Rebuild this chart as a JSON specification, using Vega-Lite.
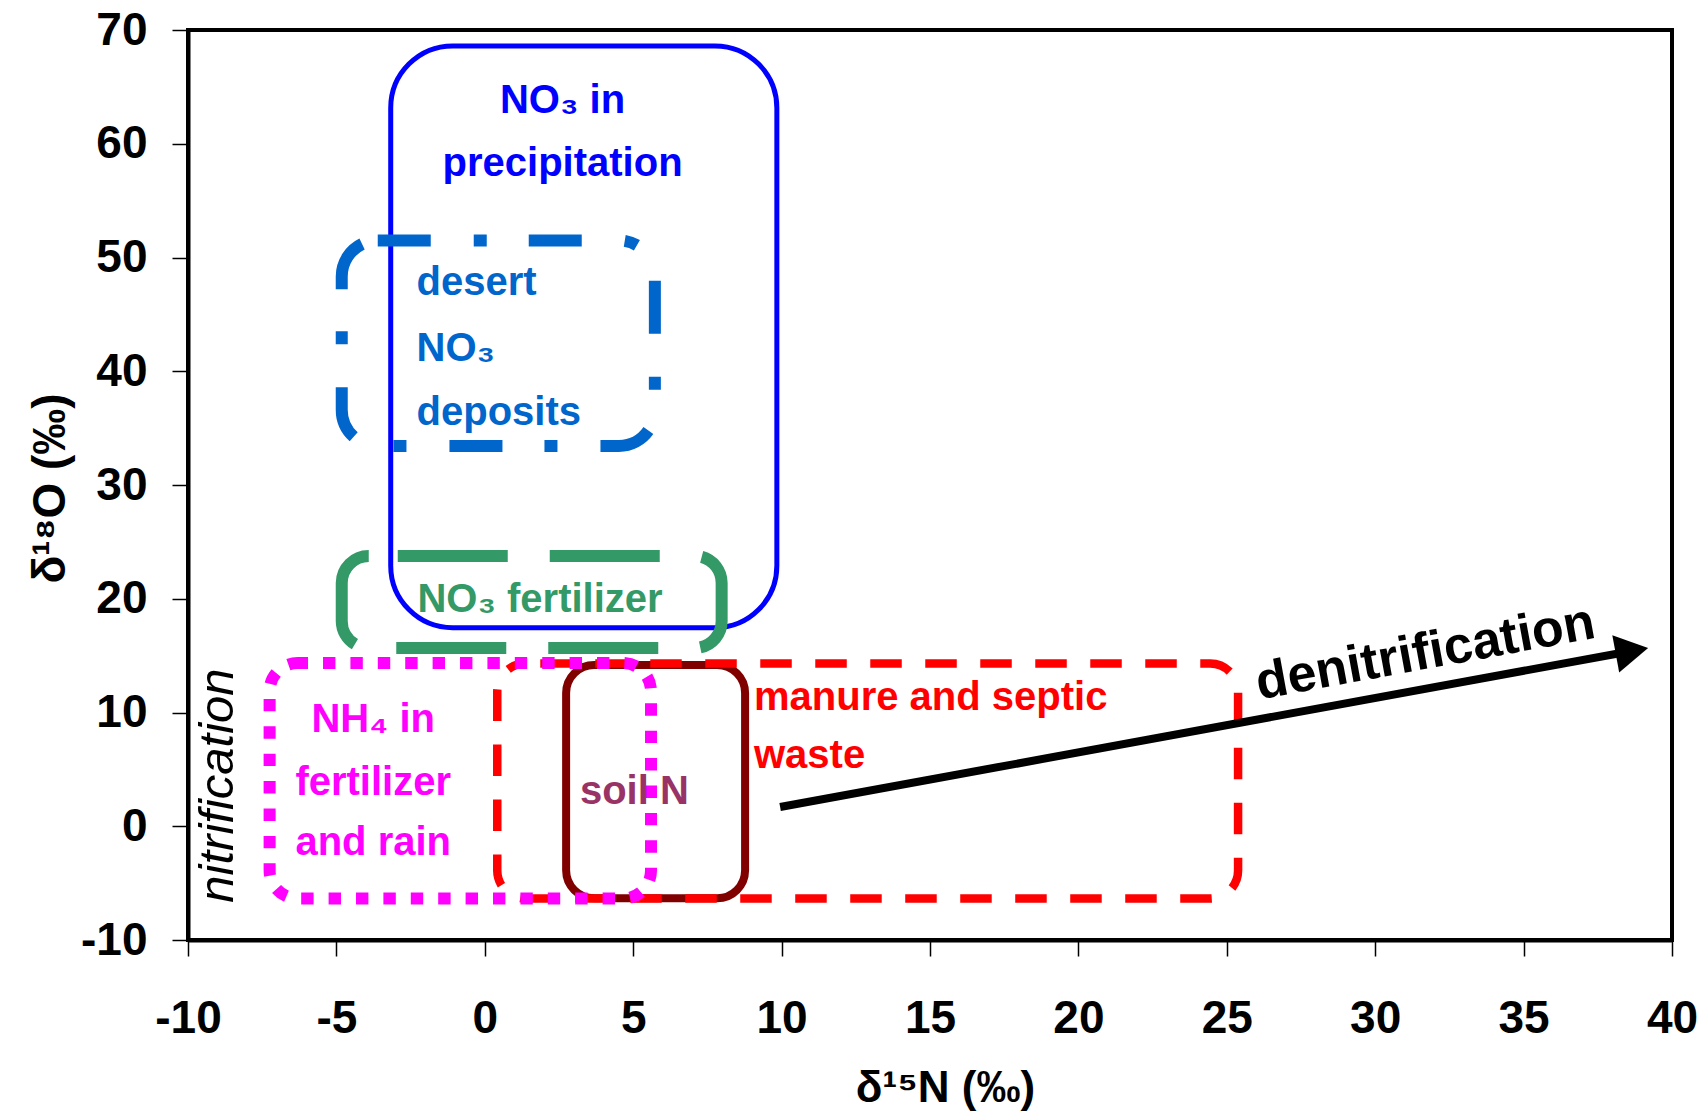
{
  "$schema": "https://vega.github.io/schema/vega-lite/v6.json",
  "width": 1484,
  "height": 910,
  "autosize": {"type": "none"},
  "padding": {"left": 188, "top": 30, "right": 34, "bottom": 174},
  "background": "white",
  "config": {
    "view": {"stroke": "black", "strokeWidth": 4},
    "font": "Liberation Sans"
  },
  "datasets": {
    "boxes": [
      {"box": "precip", "x": -3.17, "x2": 9.84, "y": 17.45, "y2": 68.6},
      {"box": "desert", "x": -4.82, "x2": 5.73, "y": 33.43, "y2": 51.5},
      {"box": "fertNO3", "x": -4.82, "x2": 7.98, "y": 15.67, "y2": 23.76},
      {"box": "soil", "x": 2.74, "x2": 8.77, "y": -6.33, "y2": 14.17},
      {"box": "manure", "x": 0.42, "x2": 25.38, "y": -6.36, "y2": 14.3},
      {"box": "nh4", "x": -7.25, "x2": 5.6, "y": -6.36, "y2": 14.35}
    ],
    "labelsCenter": [
      {"text": "NO₃ in", "x": 2.62, "y": 63.8, "group": "precip"},
      {"text": "precipitation", "x": 2.62, "y": 58.2, "group": "precip"},
      {"text": "NH₄ in", "x": -3.76, "y": 9.3, "group": "nh4"},
      {"text": "fertilizer", "x": -3.76, "y": 3.8, "group": "nh4"},
      {"text": "and rain", "x": -3.76, "y": -1.5, "group": "nh4"},
      {"text": "soil N", "x": 5.04, "y": 3.0, "group": "soil"}
    ],
    "labelsLeft": [
      {"text": "desert", "x": -2.3, "y": 47.8, "group": "desert"},
      {"text": "NO₃", "x": -2.3, "y": 42.0, "group": "desert"},
      {"text": "deposits", "x": -2.3, "y": 36.3, "group": "desert"},
      {"text": "NO₃ fertilizer", "x": -2.27, "y": 19.9, "group": "fertNO3"},
      {"text": "manure and septic", "x": 9.07, "y": 11.3, "group": "manure"},
      {"text": "waste", "x": 9.07, "y": 6.2, "group": "manure"}
    ],
    "arrow": [{"x": 9.95, "y": 1.69, "x2": 38.65, "y2": 15.41}],
    "arrowHead": [{"x": 38.65, "y": 15.41}],
    "process1": [{"text": "denitrification", "x": 31.69, "y": 15.25}],
    "process2": [{"text": "nitrification", "x": -9.0, "y": 3.58}]
  },
  "layer": [
    {
      "data": {"name": "boxes"},
      "transform": [{"filter": "datum.box === 'precip'"}],
      "mark": {"type": "rect", "fillOpacity": 0, "stroke": "#0000FF", "strokeWidth": 5, "cornerRadius": 62},
      "encoding": {
        "x": {"field": "x", "type": "quantitative", "title": "δ¹⁵N (‰)",
          "scale": {"domain": [-10, 40], "nice": false, "zero": false},
          "axis": {"values": [-10, -5, 0, 5, 10, 15, 20, 25, 30, 35, 40], "grid": false,
            "labelExpr": "(datum.value < 0 ? '-' : '') + abs(datum.value)",
            "domain": true, "domainColor": "black", "domainWidth": 4,
            "ticks": true, "tickSize": 16, "tickWidth": 1.5, "tickColor": "black",
            "labelFont": "Liberation Sans", "labelFontSize": 46, "labelFontWeight": "bold", "labelColor": "black",
            "labelPadding": 40, "labelFlush": false, "labelOverlap": false,
            "title": "δ¹⁵N (‰)", "titleFont": "Liberation Sans", "titleFontSize": 44, "titleFontWeight": "bold",
            "titleColor": "black", "titleX": 757, "titleY": 161, "titleBaseline": "alphabetic"}},
        "x2": {"field": "x2"},
        "y": {"field": "y", "type": "quantitative", "title": "δ¹⁸O (‰)",
          "scale": {"domain": [-10, 70], "nice": false, "zero": false},
          "axis": {"values": [-10, 0, 10, 20, 30, 40, 50, 60, 70], "grid": false,
            "labelExpr": "(datum.value < 0 ? '-' : '') + abs(datum.value)",
            "domain": true, "domainColor": "black", "domainWidth": 4,
            "ticks": true, "tickSize": 16, "tickWidth": 1.5, "tickColor": "black",
            "labelFont": "Liberation Sans", "labelFontSize": 46, "labelFontWeight": "bold", "labelColor": "black",
            "labelPadding": 25, "labelFlush": false, "labelOverlap": false,
            "title": "δ¹⁸O (‰)", "titleFont": "Liberation Sans", "titleFontSize": 46, "titleFontWeight": "bold",
            "titleColor": "black", "titleX": -124, "titleY": 458, "titleAngle": 270, "titleBaseline": "alphabetic"}},
        "y2": {"field": "y2"}
      }
    },
    {
      "data": {"name": "boxes"},
      "transform": [{"filter": "datum.box === 'desert'"}],
      "mark": {"type": "rect", "fillOpacity": 0, "stroke": "#0066CC", "strokeWidth": 12, "cornerRadius": 36, "strokeDash": [53, 43, 13, 42]},
      "encoding": {
        "x": {"field": "x", "type": "quantitative", "title": "δ¹⁵N (‰)"},
        "x2": {"field": "x2"},
        "y": {"field": "y", "type": "quantitative", "title": "δ¹⁸O (‰)"},
        "y2": {"field": "y2"}
      }
    },
    {
      "data": {"name": "boxes"},
      "transform": [{"filter": "datum.box === 'fertNO3'"}],
      "mark": {"type": "rect", "fillOpacity": 0, "stroke": "#339966", "strokeWidth": 12, "cornerRadius": 27, "strokeDash": [110, 42], "strokeDashOffset": 123},
      "encoding": {
        "x": {"field": "x", "type": "quantitative", "title": "δ¹⁵N (‰)"},
        "x2": {"field": "x2"},
        "y": {"field": "y", "type": "quantitative", "title": "δ¹⁸O (‰)"},
        "y2": {"field": "y2"}
      }
    },
    {
      "data": {"name": "boxes"},
      "transform": [{"filter": "datum.box === 'soil'"}],
      "mark": {"type": "rect", "fillOpacity": 0, "stroke": "#800000", "strokeWidth": 8, "cornerRadius": 28},
      "encoding": {
        "x": {"field": "x", "type": "quantitative", "title": "δ¹⁵N (‰)"},
        "x2": {"field": "x2"},
        "y": {"field": "y", "type": "quantitative", "title": "δ¹⁸O (‰)"},
        "y2": {"field": "y2"}
      }
    },
    {
      "data": {"name": "boxes"},
      "transform": [{"filter": "datum.box === 'manure'"}],
      "mark": {"type": "rect", "fillOpacity": 0, "stroke": "#FF0000", "strokeWidth": 8.5, "cornerRadius": 28, "strokeDash": [31.5, 23.5], "strokeDashOffset": 40},
      "encoding": {
        "x": {"field": "x", "type": "quantitative", "title": "δ¹⁵N (‰)"},
        "x2": {"field": "x2"},
        "y": {"field": "y", "type": "quantitative", "title": "δ¹⁸O (‰)"},
        "y2": {"field": "y2"}
      }
    },
    {
      "data": {"name": "boxes"},
      "transform": [{"filter": "datum.box === 'nh4'"}],
      "mark": {"type": "rect", "fillOpacity": 0, "stroke": "#FF00FF", "strokeWidth": 12, "cornerRadius": 28, "strokeDash": [12.4, 15], "strokeDashOffset": 2},
      "encoding": {
        "x": {"field": "x", "type": "quantitative", "title": "δ¹⁵N (‰)"},
        "x2": {"field": "x2"},
        "y": {"field": "y", "type": "quantitative", "title": "δ¹⁸O (‰)"},
        "y2": {"field": "y2"}
      }
    },
    {
      "data": {"name": "labelsCenter"},
      "mark": {"type": "text", "font": "Liberation Sans", "fontWeight": "bold", "fontSize": 40, "align": "center", "baseline": "middle"},
      "encoding": {
        "x": {"field": "x", "type": "quantitative", "title": "δ¹⁵N (‰)"},
        "y": {"field": "y", "type": "quantitative", "title": "δ¹⁸O (‰)"},
        "text": {"field": "text"},
        "color": {"field": "group", "type": "nominal", "legend": null,
          "scale": {"domain": ["precip", "desert", "fertNO3", "nh4", "soil", "manure"],
                    "range": ["#0000FF", "#0066CC", "#339966", "#FF00FF", "#993366", "#FF0000"]}}
      }
    },
    {
      "data": {"name": "labelsLeft"},
      "mark": {"type": "text", "font": "Liberation Sans", "fontWeight": "bold", "fontSize": 40, "align": "left", "baseline": "middle"},
      "encoding": {
        "x": {"field": "x", "type": "quantitative", "title": "δ¹⁵N (‰)"},
        "y": {"field": "y", "type": "quantitative", "title": "δ¹⁸O (‰)"},
        "text": {"field": "text"},
        "color": {"field": "group", "type": "nominal", "legend": null}
      }
    },
    {
      "data": {"name": "arrow"},
      "mark": {"type": "rule", "color": "black", "strokeWidth": 8},
      "encoding": {
        "x": {"field": "x", "type": "quantitative", "title": "δ¹⁵N (‰)"},
        "y": {"field": "y", "type": "quantitative", "title": "δ¹⁸O (‰)"},
        "x2": {"field": "x2"},
        "y2": {"field": "y2"}
      }
    },
    {
      "data": {"name": "arrowHead"},
      "mark": {"type": "point", "shape": "triangle-right", "filled": true, "color": "black", "opacity": 1, "size": 1444, "angle": 349.6},
      "encoding": {
        "x": {"field": "x", "type": "quantitative", "title": "δ¹⁵N (‰)"},
        "y": {"field": "y", "type": "quantitative", "title": "δ¹⁸O (‰)"}
      }
    },
    {
      "data": {"name": "process1"},
      "mark": {"type": "text", "font": "Liberation Sans", "fontWeight": "bold", "fontSize": 52, "align": "center", "baseline": "middle", "angle": 349.6, "color": "black"},
      "encoding": {
        "x": {"field": "x", "type": "quantitative", "title": "δ¹⁵N (‰)"},
        "y": {"field": "y", "type": "quantitative", "title": "δ¹⁸O (‰)"},
        "text": {"field": "text"}
      }
    },
    {
      "data": {"name": "process2"},
      "mark": {"type": "text", "font": "Liberation Sans", "fontStyle": "italic", "fontSize": 49, "align": "center", "baseline": "middle", "angle": 270, "color": "black"},
      "encoding": {
        "x": {"field": "x", "type": "quantitative", "title": "δ¹⁵N (‰)"},
        "y": {"field": "y", "type": "quantitative", "title": "δ¹⁸O (‰)"},
        "text": {"field": "text"}
      }
    }
  ]
}
